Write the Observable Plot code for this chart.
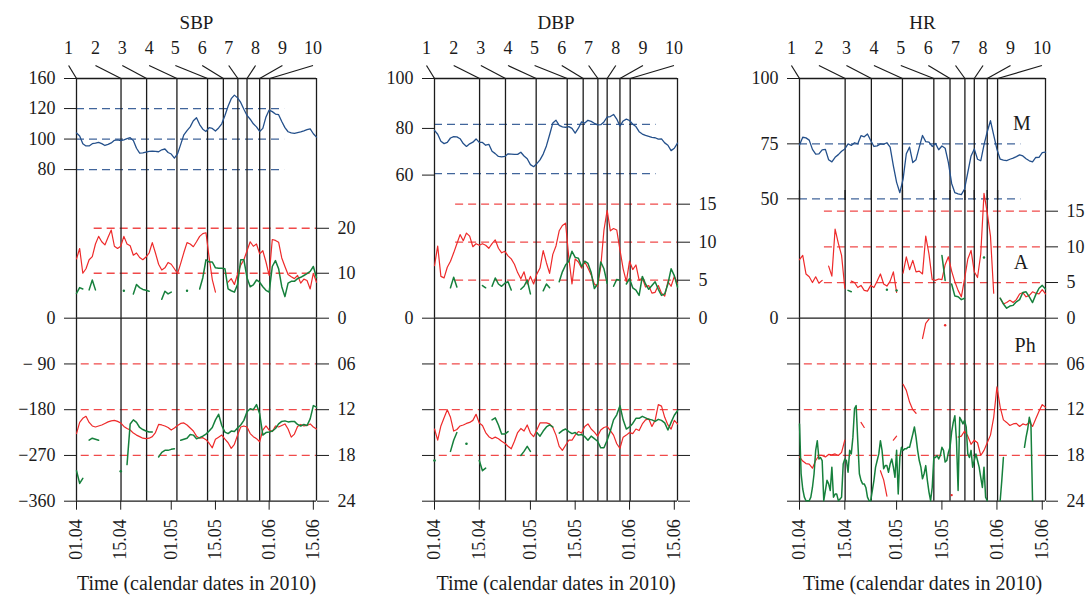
<!DOCTYPE html>
<html>
<head>
<meta charset="utf-8">
<script src="https://cdn.jsdelivr.net/npm/d3@7"></script>
<script src="https://cdn.jsdelivr.net/npm/@observablehq/plot@0.6"></script>
<style>
  html, body { margin: 0; padding: 0; background: #fff; }
  body { width: 1089px; height: 604px; position: relative; overflow: hidden; font-family: "Liberation Serif", "Times New Roman", serif; }
  .panel { position: absolute; top: 0; width: 363px; height: 604px; }
  .panel svg { position: absolute; top: 0; left: 0; }
  .panel svg text { font-family: "Liberation Serif", "Times New Roman", serif !important; }
</style>
</head>
<body>
<script>
// ---------------- data ----------------
const markerLabels = ["1", "2", "3", "4", "5", "6", "7", "8", "9", "10"];
const eventDays = [0, 14.1, 22.2, 31.8, 41.5, 46.5, 51.1, 54.0, 58.0, 61.2];      // days since 01.04.2010
const markerLabelDays = [-2.5, 6, 14.5, 23, 31.3, 39.8, 48.2, 56.7, 65.2, 74.9];
const dateTicks = ["2010-04-01", "2010-04-15", "2010-05-01", "2010-05-15", "2010-06-01", "2010-06-15"];
const phaseTicks = [-90, -180, -270, -360];
const phaseDegLabels = ["\u2212 90", "\u2212180", "\u2212270", "\u2212360"];
const phaseHourLabels = ["06", "12", "18", "24"];
const phaseRefLines = [-90, -180, -270];

// SBP
const sbpMesorTicks = [80, 100, 120];
const sbpMesorRef = [80, 100, 120];
const sbpAmpTicks = [0, 10, 20];
const sbpAmpRef = [10, 20];
const sbpMesor = [104,102,97,95.5,95.5,97,97.3,97.8,97,95.8, 96.5,97.5,99.2,99.5,99,99.5,100.3,100.9,99,94,
  90.8,91,91.5,92,92.1,92,91.7,93,93.5,91.2, 90.2,87.5,90.3,96.5,102.8,105.5,108,112,114,109.5,
  106.5,105,107.5,107,105.3,107.3,110,115.5,121.5,126.5, 128.8,127,124,119.5,115.5,113,110,108,105,107,
  114.5,119,118,116.4,116,111.5,107.5,104.8,104,103.7, 104.2,104.7,105.4,106.2,106.7,103.5,101.3];
const sbpAmpRed = [13.2,15.5,10,11,13,13.7,16.5,18.2,17,16.3, 18,19.6,16,15.5,16,18.2,16.5,16.1,14,14.5,
  13.5,13,13.6,14.5,16.8,14.5,12,10.7,11.2,12.4, 12,11,9.9,12.2,14.6,16.8,16.5,15.9,17,18.2,
  18.8,19,13.5,8.6,5.8,null,null,null,8,8.8, 7.5,9.8,11.8,13,15,17,16,16.5,14.3,15,
  12.5,9.5,17.5,17.3,16.9,13.4,11.5,9.7,9.2,8.8, 9.5,7.8,8.7,8.4,6.5,10,8];
const sbpAmpGreen = [5.5,6.8,6.5,null,6.3,8.5,6.3,null,null,null, null,null,null,null,null,6.1,null,null,5.4,7.5,
  6.8,6.4,6.2,6,null,null,null,4.2,6,5.4, 5.8,null,null,null,null,6.1,null,null,null,6.5,
  9,13,12.5,12.5,11.2,11.1,11.1,11,6.5,6.1, 5.8,7.5,13,13,9,7,7.4,8.5,8,7,
  6.2,5.8,11.5,12.8,11,7,4.8,7.8,8.2,8.2, 8.8,9.1,9.5,9.9,10.4,11.5,9];
const sbpPhaseRed = [-227,-205,-197,-193,-205,-212,-214,-212,-210,-207, -204,-202,-201,-203,-206,-213,-217,-220,-226,-230,
  -233,-236,-237,-236,-233,-225,-209,-210,-212,-215, -220,-216,-211,-207,-206,-210,-216,-222,-232,-236,
  -235,-239,-246,-255,-238,-234,-230,-238,-245,-256, -248,-230,-214,-212,-214,-227,-233,-237,-243,-220,
  -212,-220,-223,-212,-214,-211,-208,-218,-234,-228, -213,-209,-212,-211,-208,-214,-218];
const sbpPhaseGreen = [-300,-325,-315,null,-240,-236,-238,-240,null,null, null,null,null,null,-301,null,-288,-208,-200,-205,
  -215,-219,-222,-224,-224,null,-273,-264,-260,-260, -258,-257,null,-240,-238,-236,-229,-230,-237,-235,
  -232,-228,-222,-215,-200,-189,-211,-224,-227,-222, -223,-216,-210,-201,-184,-178,-180,-170,-188,-230,
  -225,-224,-222,-217,-208,-203,-202,-204,-203,-203, -209,-212,-209,-211,-198,-172,-175];

// DBP
const dbpMesorTicks = [60, 80];
const dbpMesorRef = [60.6, 81.7];
const dbpAmpTicks = [0, 5, 10, 15];
const dbpAmpRef = [5, 10, 15];
const dbpMesor = [79.2,77.5,74.5,73.5,74,75.9,76.5,76.4,75.6,73.5, 72.3,73.4,74.1,75.5,74,74,72.8,73.2,70.2,69.2,
  68,67.8,68,69.1,69,68.9,68.9,69.8,68.2,67, 64.5,63.6,64.9,66.5,69,72.5,77.3,82.3,83.5,81.3,
  80.7,80.5,80.8,80,78,80.1,82.8,82.3,83.5,83, 82.2,81.5,81.6,82.8,84.9,85.1,86,84,81,83.2,
  84,83.4,81.8,80.8,78.6,77.6,77,76.6,76.2,76, 75.4,75.5,73.8,72.8,70.5,71.5,73.7];
const dbpAmpRed = [6.9,9.5,5.5,5.3,6.7,7.5,8.6,9.8,11,10.2, 11.2,10.8,9.4,9.8,9.6,9.8,9.6,9.2,9.8,10.3,
  9.2,8.6,8.8,8.2,7.8,7.1,6,5.2,6.1,4.5, 5.5,4.5,5.8,6.6,8.9,7.3,5.9,8.4,9.5,11.5,
  12.2,12.5,8,4.5,7.8,7.4,6.6,7.4,6.6,5.7, 4.5,4.2,6.8,11.6,14.2,11.5,11.8,11.6,9,6.5,
  4.8,7.5,6.4,7,5,5.3,4.1,4.3,3.3,3.4, 4.3,3.3,2.9,4.8,4.2,5.5,4.5];
const dbpAmpGreen = [null,null,null,null,null,4,5.4,4.1,null,null, null,null,null,null,null,4.3,4,null,4.2,5.3,
  4.5,4.2,4.6,4.8,3.7,null,null,3.8,4.2,5, 3.2,null,null,null,3.6,4.5,4,null,null,4.8,
  6.1,7,7.5,8.8,8,7.9,6.8,7.5,7.2,6, 3.9,4.5,7.4,6.5,4.6,null,4.2,5.1,5,null,
  4.5,5.2,4,3.7,3,5.5,4.5,3.8,4.3,4.8, 3.8,3,3.2,4.5,6.5,5.6,4.1];
const dbpPhaseRed = [-218,-240,-212,-196,-180,-195,-222,-219,-212,-210, -207,-205,-201,-189,-206,-211,-225,-233,-237,-234,
  -237,-242,-246,-252,-257,-242,-225,-217,-222,-210, -226,-233,-220,-206,-206,-206,-208,-215,-230,-252,
  -260,-250,-240,-240,-230,-223,-226,-213,-208,-218, -224,-232,-220,-215,-213,-221,-230,-247,-256,-234,
  -230,-225,-227,-218,-221,-208,-200,-198,-213,-201, -170,-173,-195,-210,-218,-201,-208];
const dbpPhaseGreen = [-280,null,null,null,null,-262,-240,-225,null,null, -247,null,null,null,-280,-300,-295,null,-200,-196,
  -210,-228,-228,-223,null,null,null,-270,-262,-252, -262,null,-225,-232,-222,-214,-210,-214,null,-226,
  -221,-218,-223,-227,-225,-230,-229,-233,-240,-232, -237,-242,-255,-255,-240,-222,-200,-190,-172,-200,
  -218,-214,-207,-197,-197,-193,-196,-199,-200,-203, -199,-201,-206,-220,-205,-191,-182];

// HR
const hrMesorTicks = [50, 75];
const hrMesorRef = [50, 75];
const hrAmpTicks = [0, 5, 10, 15];
const hrAmpRef = [5, 10, 15];
const hrMesor = [74.5,78,77.7,76.7,72.5,70.3,70.4,72.3,72.5,67.8, 66.8,68.9,70.1,71.6,72.7,75,74.3,75.5,75,78.7,
  78.2,79.5,76.5,73.8,74.1,75,74.8,75.5,73.5,65, 57.5,52.8,59,70.5,73.5,66.5,67.8,73.5,78.8,76,
  75.8,73.8,75.2,72.3,74,73,66.5,57,52.8,52.3, 51.9,54.5,62,69.5,72.7,68,67.3,74.5,80.5,85.5,
  79,72.5,68,67.6,67.4,68,68.5,69.2,70,69.5, 68.2,67.3,66.8,68.8,68.9,71,71.2];
const hrAmpRed = [8.2,8.8,6.2,5.8,5,5.8,4.9,5.3,null,7.3, 5.9,12.5,10.5,8.8,4.2,null,5.2,5,4.3,4.6,
  3.9,3.8,4.6,4.3,5.2,6.2,4.8,4.5,5.2,6.5, 3.6,null,6.3,8.6,6.8,8.1,6.5,6.6,6.2,11.5,
  9,5.4,5.3,5.5,5.4,7.5,8.6,6.6,5.1,3.9, 3,5.5,8.3,9.5,6.5,5.7,9,17.5,14.8,11.5,
  3.5,null,2.8,2,2.2,2.5,2.2,2.6,3.4,3.6, 3,3.2,3.7,3.5,3.4,4,3.4];
const hrAmpGreen = [null,null,null,null,null,null,null,null,null,null, null,null,null,null,null,3.9,3.7,null,null,null,
  null,null,null,null,null,null,null,4,null,null, 3.9,null,null,null,null,null,null,null,null,null,
  null,null,null,null,8.8,5.3,null,4.8,3.1,3, 2.6,2.8,null,null,null,null,null,8.5,null,null,
  null,null,2.8,2,1.4,1.7,1.8,2.3,2.6,3.6, 3.7,3,2.2,3.3,4.2,4.6,4.1];
const hrPhaseRed = [-273,-281,-286,-287,-295,-280,-270,-270,-273,-268, -269,-267,-270,-264,-240,null,null,null,null,-205,
  -215,null,null,null,null,-300,-318,-350,null,-240, -232,null,-130,-142,-165,-180,-187,null,-40,-10,
  -2,null,null,null,null,-14,null,-348,null,-234, -232,-222,-232,-248,-240,-245,-270,-260,-245,-230,
  -195,-135,-175,-200,-205,-211,-208,-207,-213,-208, -210,-205,-213,-198,-183,-170,-175];
// half-day resolution
const hrPhaseGreen = [-208,-306,-336,-352,-359,-359,-359,-352,-333,-306, -260,-241,-277,-274,-280,-359,-339,-319,-326,-339,
  -293,-352,-346,-346,-359,-356,-352,-287,-277,-280, -303,-260,-267,-234,-178,-172,-241,-306,-319,-326,
  -326,-333,-352,-359,-359,-339,-319,-293,-280,-267, -241,-260,-296,-290,-290,-303,-287,-277,-293,-313,
  -260,-346,-274,-254,-260,-257,-257,-254,-254,-241, -228,-214,-234,-260,-280,-293,-316,-306,-290,-319,
  -342,-359,-333,-274,-274,-270,-277,-270,-254,-260, -283,-280,-264,-254,-224,-205,-192,-241,-339,-195,
  -201,-208,-201,-214,-267,-274,-260,-293,-280,-267, -280,-293,-313,-333,-293,-352,-359,null,null,null,
  null,null,null,null,-359,-319,-274,null,null,null, null,null,null,null,null,null,null,null,null,-254,
  -234,-218,-195,-208,-359,null,null,null,null,null, null,null,null];
const hrSubLabels = ["M", "A", "Ph"];
const hrSubLabelDays = [68.7, 68.4, 69.7];
const hrSubLabelValues = [84, 7.85, -53.7];

const titles = ["SBP", "DBP", "HR"];
const xLabel = "Time (calendar dates in 2010)";

// ---------------- drawing ----------------
const FONT = '"Liberation Serif", "Times New Roman", serif';
const INK = "#1b1b1b", BLUE = "#24508b", BLUE_DASH = "#41659b", RED = "#ee2a2a", RED_DASH = "#f04a4a", GREEN = "#16803c";
const DASH = "8,5";
const DAY = 864e5, T0 = Date.UTC(2010, 3, 1);
const toDate = d => new Date(T0 + d * DAY);
const END = 76;
const records = (values, step = 1) => values.map((v, i) => ({date: toDate(i * step), value: v}));
const isolated = (values, step = 1) => records(values, step)
  .filter((r, i) => r.value != null && values[i - 1] == null && values[i + 1] == null);

const panels = [
  {title: titles[0], left: 0, ml: 76, mr: 47,
   mesor: sbpMesor, mDomain: [66.3, 139.7], mBottomPx: 190, mTicks: sbpMesorTicks, mTopLabel: "160", mRef: sbpMesorRef, mRefEnd: 65.9,
   ampRed: sbpAmpRed, ampGreen: sbpAmpGreen, aTop: 28.4, aTicks: sbpAmpTicks, aRef: sbpAmpRef, aRefStart: 5.6,
   phRed: sbpPhaseRed, phGreen: sbpPhaseGreen, phGreenStep: 1, phLeft: true, phRight: true},
  {title: titles[1], left: 363, ml: 71, mr: 49,
   mesor: dbpMesor, mDomain: [53.4, 101.4], mBottomPx: 190, mTicks: dbpMesorTicks, mTopLabel: "100", mRef: dbpMesorRef, mRefEnd: 69.3,
   ampRed: dbpAmpRed, ampGreen: dbpAmpGreen, aTop: 16.8, aTicks: dbpAmpTicks, aRef: dbpAmpRef, aRefStart: 6.6,
   phRed: dbpPhaseRed, phGreen: dbpPhaseGreen, phGreenStep: 1, phLeft: false, phRight: false},
  {title: titles[2], left: 726, ml: 73, mr: 44,
   mesor: hrMesor, mDomain: [49.25, 104.7], mBottomPx: 200, mTicks: hrMesorTicks, mTopLabel: "100", mRef: hrMesorRef, mRefEnd: 68.4,
   ampRed: hrAmpRed, ampGreen: hrAmpGreen, aTop: 17.9, aTicks: hrAmpTicks, aRef: hrAmpRef, aRefStart: 7.7,
   phRed: hrPhaseRed, phGreen: hrPhaseGreen, phGreenStep: 0.5, phLeft: false, phRight: true, subLabels: true}
];

const markers = markerLabels.map((label, i) => ({label, labelDate: toDate(markerLabelDays[i]), eventDate: toDate(eventDays[i])}));
const eventDates = eventDays.map(toDate);

function base(p, top, bottomPx, showX = false) {
  return {
    width: 363, height: 604, marginLeft: p.ml, marginRight: p.mr,
    marginTop: top, marginBottom: 604 - bottomPx,
    x: {type: "utc", domain: [toDate(0), toDate(END)], ...(showX ? {} : {axis: null})},
    style: {background: "transparent", fontFamily: FONT, fontSize: "18px", color: INK, overflow: "visible"}
  };
}
const frameRules = () => [
  Plot.ruleX(eventDates, {stroke: INK, strokeWidth: 1.3}),
  Plot.ruleX([toDate(END)], {stroke: INK, strokeWidth: 1.3})
];
const axisOpts = {tickSize: 12, tickPadding: 9, label: null, fontSize: 18, fontFamily: FONT};

for (const p of panels) {
  const div = document.createElement("div");
  div.className = "panel";
  div.style.left = p.left + "px";
  document.body.appendChild(div);

  // strip with event numbers and title
  div.appendChild(Plot.plot({
    ...base(p, 65, 78),
    y: {domain: [0, 1], axis: null},
    marks: [
      Plot.link(markers, {x1: "labelDate", y1: () => 1, x2: "eventDate", y2: () => 0, stroke: INK, strokeWidth: 1.2}),
      Plot.text(markers, {x: "labelDate", y: () => 1, text: "label", dy: -17, fontSize: 18, fontFamily: FONT}),
      Plot.text([p.title], {frameAnchor: "top", dy: -50, fontSize: 19, fontFamily: FONT})
    ]
  }));

  // mesor
  const mTop = p.mDomain[1];
  const mMarks = [
    Plot.ruleY(p.mRef, {x1: () => toDate(0), x2: () => toDate(p.mRefEnd), stroke: BLUE_DASH, strokeWidth: 1.3, strokeDasharray: DASH}),
    ...frameRules(),
    Plot.ruleY([mTop], {stroke: INK, strokeWidth: 1.3}),
    Plot.line(records(p.mesor), {x: "date", y: "value", stroke: BLUE, strokeWidth: 1.3}),
    Plot.axisY({anchor: "left", ticks: [...p.mTicks, mTop], tickFormat: d => d === mTop ? p.mTopLabel : String(d), ...axisOpts})
  ];
  if (p.subLabels) mMarks.push(Plot.text([0], {x: () => toDate(hrSubLabelDays[0]), y: () => hrSubLabelValues[0], text: () => hrSubLabels[0], fontSize: 20, fontFamily: FONT}));
  div.appendChild(Plot.plot({...base(p, 78, p.mBottomPx), y: {domain: p.mDomain}, marks: mMarks}));

  // amplitude
  const aMarks = [
    Plot.ruleY(p.aRef, {x1: () => toDate(p.aRefStart), x2: () => toDate(END), stroke: RED_DASH, strokeWidth: 1.3, strokeDasharray: DASH}),
    ...frameRules(),
    Plot.ruleY([0], {stroke: INK, strokeWidth: 1.3}),
    Plot.line(records(p.ampRed), {x: "date", y: "value", stroke: RED, strokeWidth: 1.2}),
    Plot.dot(isolated(p.ampRed), {x: "date", y: "value", fill: RED, r: 1}),
    Plot.line(records(p.ampGreen), {x: "date", y: "value", stroke: GREEN, strokeWidth: 1.5}),
    Plot.dot(isolated(p.ampGreen), {x: "date", y: "value", fill: GREEN, r: 1.2}),
    Plot.axisY({anchor: "left", ticks: [0], tickFormat: d => String(d), ...axisOpts}),
    Plot.axisY({anchor: "right", ticks: p.aTicks, tickFormat: d => String(d), ...axisOpts})
  ];
  if (p.subLabels) aMarks.push(Plot.text([0], {x: () => toDate(hrSubLabelDays[1]), y: () => hrSubLabelValues[1], text: () => hrSubLabels[1], fontSize: 20, fontFamily: FONT}));
  div.appendChild(Plot.plot({...base(p, 190, 317.7), y: {domain: [0, p.aTop]}, marks: aMarks}));

  // phase
  const degLabel = new Map(phaseTicks.map((t, i) => [t, phaseDegLabels[i]]));
  const hourLabel = new Map(phaseTicks.map((t, i) => [t, phaseHourLabels[i]]));
  const phMarks = [
    Plot.ruleY(phaseRefLines, {x1: () => toDate(1.5), x2: () => toDate(END), stroke: RED_DASH, strokeWidth: 1.3, strokeDasharray: DASH}),
    ...frameRules(),
    Plot.ruleY([-360], {stroke: INK, strokeWidth: 1.3}),
    Plot.line(records(p.phRed), {x: "date", y: "value", stroke: RED, strokeWidth: 1.2}),
    Plot.dot(isolated(p.phRed), {x: "date", y: "value", fill: RED, r: 1.2}),
    Plot.line(records(p.phGreen, p.phGreenStep), {x: "date", y: "value", stroke: GREEN, strokeWidth: 1.5}),
    Plot.dot(isolated(p.phGreen, p.phGreenStep), {x: "date", y: "value", fill: GREEN, r: 1.3}),
    Plot.axisY({anchor: "left", ticks: phaseTicks, tickFormat: d => p.phLeft ? degLabel.get(d) : "", ...axisOpts}),
    Plot.axisY({anchor: "right", ticks: phaseTicks, tickFormat: d => p.phRight ? hourLabel.get(d) : "", ...axisOpts}),
    Plot.axisX({anchor: "bottom", ticks: dateTicks.map(s => new Date(s + "T00:00:00Z")), tickFormat: d3.utcFormat("%d.%m"),
      tickRotate: -90, tickSize: 9, tickPadding: 9, label: null, fontSize: 18, fontFamily: FONT}),
    Plot.text([xLabel], {frameAnchor: "bottom", dy: 89, fontSize: 20, fontFamily: FONT})
  ];
  if (p.subLabels) phMarks.push(Plot.text([0], {x: () => toDate(hrSubLabelDays[2]), y: () => hrSubLabelValues[2], text: () => hrSubLabels[2], fontSize: 20, fontFamily: FONT}));
  div.appendChild(Plot.plot({...base(p, 317.7, 500.7, true), y: {domain: [-360, 0]}, marks: phMarks}));
}
</script>
</body>
</html>
